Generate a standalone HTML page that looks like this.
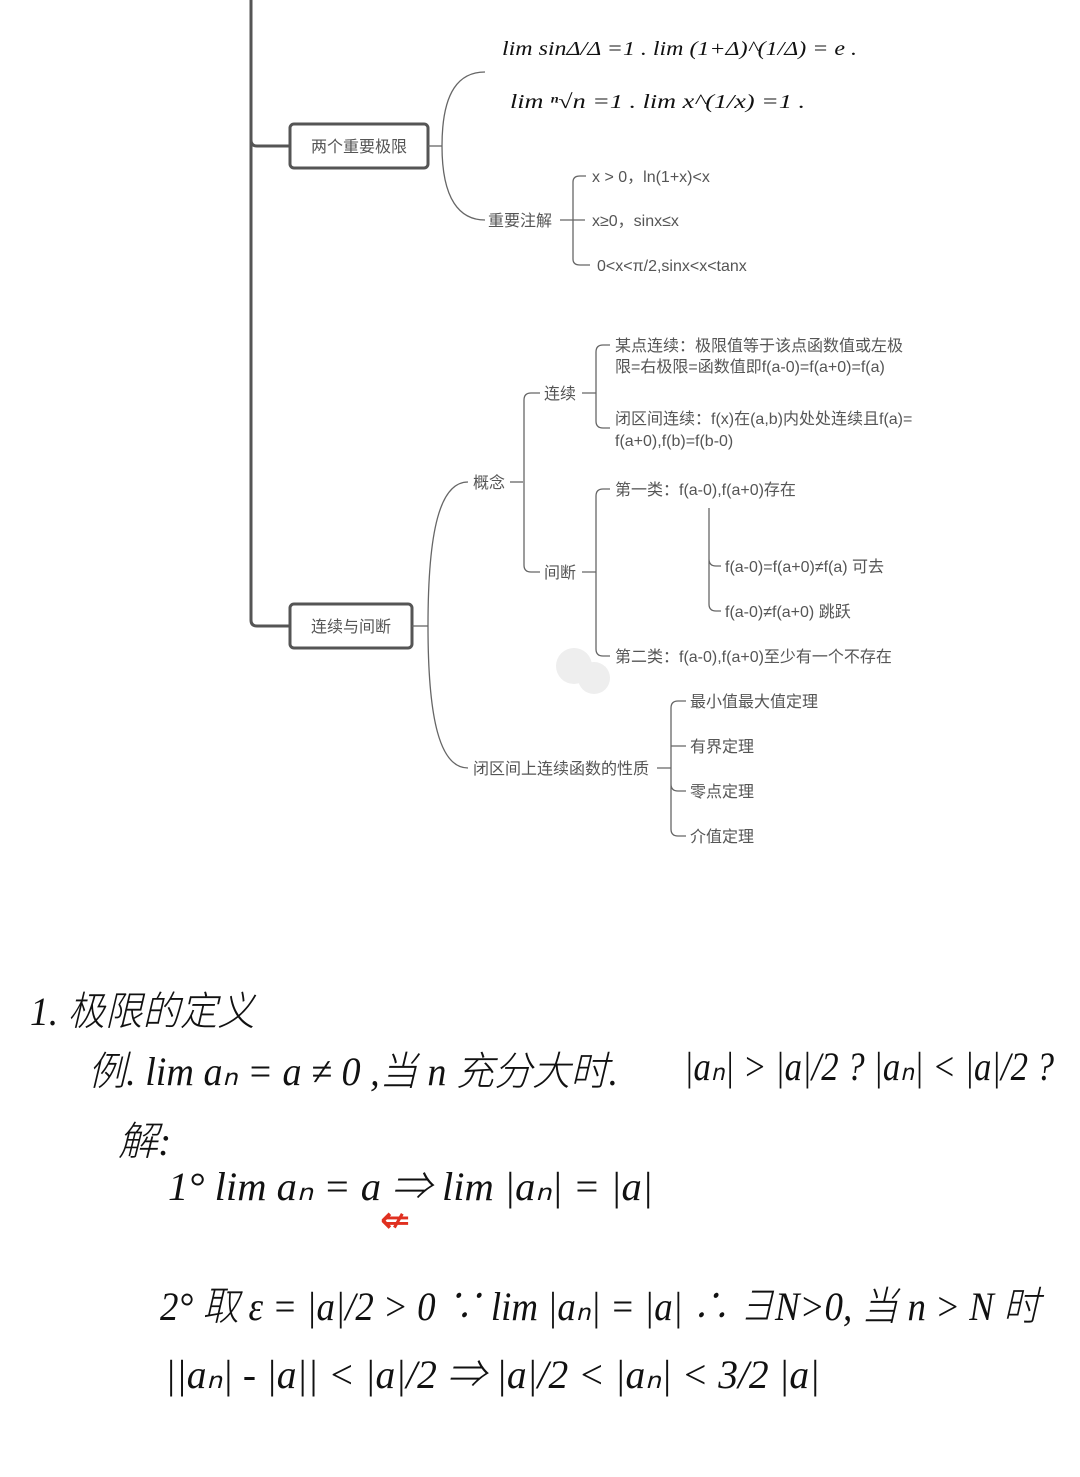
<!DOCTYPE html>
<html><head><meta charset="utf-8"><style>
html,body{margin:0;padding:0;background:#fff;}
svg{display:block}
.m{font-family:"Liberation Sans","Noto Sans CJK SC",sans-serif;font-size:16px;fill:#555;}
.h{font-family:"Liberation Serif","Noto Sans CJK SC",serif;fill:#111;font-style:italic;}
</style></head><body>
<svg width="1080" height="1477" viewBox="0 0 1080 1477" xmlns="http://www.w3.org/2000/svg">
<g fill="none" stroke="#555" stroke-width="3">
<path d="M251 0 V140 Q251 146 257 146 H290"/>
<path d="M251 140 V620 Q251 626 257 626 H290"/>
<rect x="290" y="124" width="138" height="44" rx="4"/>
<rect x="290" y="604" width="122" height="44" rx="4"/>
</g>
<g fill="none" stroke="#666" stroke-width="1.3">
<path d="M428 146 H442"/>
<path d="M442 146 C442 90 460 72 485 72"/>
<path d="M442 146 C442 200 460 220 485 220"/>
<path d="M560 220 H585"/>
<path d="M573 220 V182 Q573 176 580 176 H586 M573 220 V259 Q573 265 580 265 H590"/>
<path d="M412 626 H428"/>
<path d="M428 626 C428 530 440 482 468 482"/>
<path d="M428 626 C428 720 440 768 468 768"/>
<path d="M510 482 H523"/>
<path d="M524 482 V400 Q524 393 531 393 H540 M524 482 V565 Q524 572 531 572 H540"/>
<path d="M582 393 H596 M596 393 V352 Q596 345 603 345 H610 M596 393 V421 Q596 428 603 428 H610"/>
<path d="M582 572 H596 M596 572 V496 Q596 489 603 489 H610 M596 572 V649 Q596 656 603 656 H610"/>
<path d="M709 508 V559 Q709 566 716 566 H721 M709 559 V604 Q709 611 716 611 H721"/>
<path d="M657 768 H671 M671 768 V708 Q671 701 678 701 H686 M671 768 V746 M671 746 H686 M671 768 V784 Q671 791 678 791 H686 M671 784 V829 Q671 836 678 836 H686"/>
</g>
<g class="m">
<text x="359" y="152" text-anchor="middle">两个重要极限</text>
<text x="351" y="632" text-anchor="middle">连续与间断</text>
<text x="488" y="226">重要注解</text>
<text x="592" y="182">x &gt; 0，ln(1+x)&lt;x</text>
<text x="592" y="226">x≥0，sinx≤x</text>
<text x="597" y="271">0&lt;x&lt;π/2,sinx&lt;x&lt;tanx</text>
<text x="473" y="488">概念</text>
<text x="544" y="399">连续</text>
<text x="544" y="578">间断</text>
<text x="615" y="351">某点连续：极限值等于该点函数值或左极</text>
<text x="615" y="372">限=右极限=函数值即f(a-0)=f(a+0)=f(a)</text>
<text x="615" y="424">闭区间连续：f(x)在(a,b)内处处连续且f(a)=</text>
<text x="615" y="446">f(a+0),f(b)=f(b-0)</text>
<text x="615" y="495">第一类：f(a-0),f(a+0)存在</text>
<text x="725" y="572">f(a-0)=f(a+0)≠f(a) 可去</text>
<text x="725" y="617">f(a-0)≠f(a+0) 跳跃</text>
<text x="615" y="662">第二类：f(a-0),f(a+0)至少有一个不存在</text>
<text x="473" y="774">闭区间上连续函数的性质</text>
<text x="690" y="707">最小值最大值定理</text>
<text x="690" y="752">有界定理</text>
<text x="690" y="797">零点定理</text>
<text x="690" y="842">介值定理</text>
</g>
<g fill="#eee"><circle cx="574" cy="666" r="18"/><circle cx="594" cy="678" r="16"/></g>
<g class="h" font-size="20">
<text x="502" y="55" textLength="355" lengthAdjust="spacingAndGlyphs">lim sinΔ/Δ =1 .  lim (1+Δ)^(1/Δ) = e .</text>
<text x="510" y="108" textLength="295" lengthAdjust="spacingAndGlyphs">lim ⁿ√n =1 .  lim x^(1/x) =1 .</text>
</g>
<g class="h" font-size="40" font-weight="300">
<text x="30" y="1025" textLength="225" lengthAdjust="spacingAndGlyphs">1. 极限的定义</text>
<text x="88" y="1085" textLength="530" lengthAdjust="spacingAndGlyphs">例. lim aₙ = a ≠ 0 ,当 n 充分大时.</text>
<text x="684" y="1080" textLength="370" lengthAdjust="spacingAndGlyphs">|aₙ| &gt; |a|/2 ?  |aₙ| &lt; |a|/2 ?</text>
<text x="118" y="1155">解:</text>
<text x="168" y="1200" textLength="485" lengthAdjust="spacingAndGlyphs">1° lim aₙ = a  ⇒  lim |aₙ| = |a|</text>
<text x="160" y="1320" textLength="880" lengthAdjust="spacingAndGlyphs">2° 取 ε = |a|/2 &gt; 0   ∵ lim |aₙ| = |a|   ∴ ∃N&gt;0, 当 n &gt; N 时</text>
<text x="165" y="1388" textLength="655" lengthAdjust="spacingAndGlyphs">||aₙ| - |a|| &lt; |a|/2  ⇒  |a|/2 &lt; |aₙ| &lt; 3/2 |a|</text>
</g>
<text x="380" y="1232" font-family="DejaVu Sans,sans-serif" font-size="36" font-weight="bold" fill="#e03020">⇍</text>
</svg>
</body></html>
